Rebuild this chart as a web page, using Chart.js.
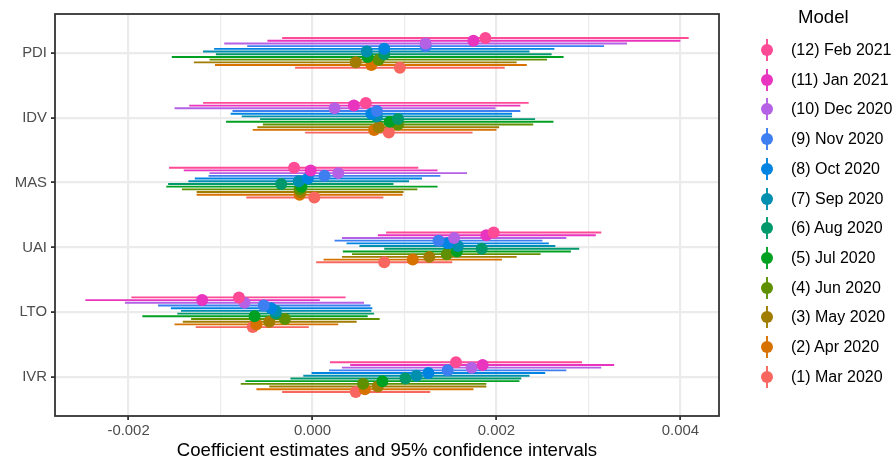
<!DOCTYPE html>
<html><head><meta charset="utf-8">
<script src="https://cdn.jsdelivr.net/npm/chart.js@4.4.1/dist/chart.umd.min.js"></script>
<style>
html,body{margin:0;padding:0;background:#fff;}
#wrap{position:relative;width:896px;height:464px;font-family:"Liberation Sans",Arial,sans-serif;overflow:hidden;}
#c{position:absolute;left:0;top:0;}
.lg-title{position:absolute;font-size:18.6px;color:#000;line-height:1;white-space:nowrap;}
.lg-item{position:absolute;height:22px;white-space:nowrap;}
.lg-item svg{position:absolute;left:0;top:0;}
.lg-item span{position:absolute;left:35px;top:2px;font-size:16px;line-height:18px;color:#000;}
</style></head><body>
<div id="wrap"><canvas id="c" width="896" height="464"></canvas><div id="legend"></div></div>
<script>
// ---- data ----
const variables = ["PDI", "IDV", "MAS", "UAI", "LTO", "IVR"];
const modelLabels = ["(1) Mar 2020", "(2) Apr 2020", "(3) May 2020", "(4) Jun 2020", "(5) Jul 2020", "(6) Aug 2020",
  "(7) Sep 2020", "(8) Oct 2020", "(9) Nov 2020", "(10) Dec 2020", "(11) Jan 2021", "(12) Feb 2021"];
const modelColors = ["#F8665F", "#D77200", "#A07D00", "#5E9000", "#00A023", "#00996C",
  "#008FAE", "#0084E2", "#3D7EF1", "#B561E5", "#E834BE", "#FF4A96"];
const xTickValues = [-0.002, -0.001, 0, 0.001, 0.002, 0.003, 0.004];
const xLimits = [-0.0028, 0.00442];

// values per model (1) ... (12)
const pdiEst  = [0.00095, 0.00064, 0.00047, 0.00072, 0.00060, 0.00078, 0.00059, 0.00078, 0.00123, 0.00123, 0.00175, 0.00188];
const pdiLow  = [-0.00019, -0.00106, -0.00129, -0.00112, -0.00153, -0.00105, -0.00119, -0.00107, -0.00071, -0.00096, -0.00049, -0.00033];
const pdiHigh = [0.00209, 0.00233, 0.00222, 0.00255, 0.00273, 0.00260, 0.00236, 0.00263, 0.00317, 0.00342, 0.00400, 0.00409];

const idvEst  = [0.00083, 0.00067, 0.00072, 0.00093, 0.00084, 0.00093, 0.00070, 0.00064, 0.00070, 0.00024, 0.00045, 0.00058];
const idvLow  = [-0.00008, -0.00065, -0.00060, -0.00054, -0.00094, -0.00057, -0.00077, -0.00089, -0.00087, -0.00150, -0.00134, -0.00119];
const idvHigh = [0.00174, 0.00200, 0.00203, 0.00240, 0.00262, 0.00242, 0.00217, 0.00217, 0.00226, 0.00199, 0.00226, 0.00235];

const masEst  = [0.00002, -0.00014, -0.00013, -0.00014, -0.00012, -0.00034, -0.00015, -0.00005, 0.00013, 0.00028, -0.00002, -0.00020];
const masLow  = [-0.00072, -0.00126, -0.00126, -0.00142, -0.00159, -0.00157, -0.00135, -0.00128, -0.00113, -0.00112, -0.00140, -0.00156];
const masHigh = [0.00077, 0.00098, 0.00099, 0.00114, 0.00136, 0.00088, 0.00105, 0.00119, 0.00139, 0.00168, 0.00136, 0.00115];

const uaiEst  = [0.00078, 0.00109, 0.00127, 0.00146, 0.00157, 0.00184, 0.00158, 0.00147, 0.00137, 0.00154, 0.00189, 0.00197];
const uaiLow  = [0.00004, 0.00012, 0.00032, 0.00043, 0.00033, 0.00078, 0.00051, 0.00037, 0.00024, 0.00032, 0.00071, 0.00080];
const uaiHigh = [0.00152, 0.00206, 0.00222, 0.00248, 0.00281, 0.00290, 0.00264, 0.00257, 0.00250, 0.00276, 0.00308, 0.00314];

const ltoEst  = [-0.00065, -0.00061, -0.00047, -0.00030, -0.00063, -0.00040, -0.00040, -0.00045, -0.00053, -0.00074, -0.00120, -0.00080];
const ltoLow  = [-0.00127, -0.00150, -0.00141, -0.00132, -0.00185, -0.00147, -0.00143, -0.00154, -0.00168, -0.00204, -0.00247, -0.00197];
const ltoHigh = [-0.00004, 0.00028, 0.00048, 0.00073, 0.00060, 0.00067, 0.00064, 0.00065, 0.00063, 0.00056, 0.00008, 0.00036];

const ivrEst  = [0.00047, 0.00057, 0.00071, 0.00055, 0.00076, 0.00101, 0.00113, 0.00126, 0.00147, 0.00173, 0.00185, 0.00156];
const ivrLow  = [-0.00033, -0.00061, -0.00047, -0.00078, -0.00073, -0.00024, -0.00010, -0.00001, 0.00018, 0.00032, 0.00041, 0.00019];
const ivrHigh = [0.00128, 0.00175, 0.00189, 0.00189, 0.00225, 0.00227, 0.00236, 0.00253, 0.00276, 0.00314, 0.00328, 0.00293];

// ---- build ----
const estByVar  = [pdiEst, idvEst, masEst, uaiEst, ltoEst, ivrEst];
const lowByVar  = [pdiLow, idvLow, masLow, uaiLow, ltoLow, ivrLow];
const highByVar = [pdiHigh, idvHigh, masHigh, uaiHigh, ltoHigh, ivrHigh];

const nModels = modelLabels.length;
const dodgeWidth = 0.5;
const dodge = m => ((nModels - 1) / 2 - m) * dodgeWidth / nModels;

Chart.defaults.font.family = "'Liberation Sans', Arial, sans-serif";

const datasets = [];
for (let m = nModels - 1; m >= 0; m--) {
  datasets.push({
    type: 'scatter', label: modelLabels[m], order: 0,
    data: variables.map((v, j) => ({ x: estByVar[j][m], y: j + 1 + dodge(m) })),
    backgroundColor: modelColors[m], borderColor: modelColors[m],
    pointRadius: 6, pointBorderWidth: 0, pointHoverRadius: 6
  });
}
for (let m = nModels - 1; m >= 0; m--) {
  variables.forEach((v, j) => {
    const y = j + 1 + dodge(m);
    datasets.push({
      type: 'line', label: modelLabels[m] + ' ' + v, order: 1,
      data: [{ x: lowByVar[j][m], y: y }, { x: highByVar[j][m], y: y }],
      borderColor: modelColors[m], borderWidth: 1.9, borderCapStyle: 'butt',
      pointRadius: 0, showLine: true, fill: false
    });
  });
}

const isMajor = v => Math.abs(Math.round(v * 1000)) % 2 === 0;

const panelBorder = {
  id: 'panelBorder',
  afterDraw(chart) {
    const { ctx, chartArea: a } = chart;
    ctx.save();
    ctx.strokeStyle = '#333333';
    ctx.lineWidth = 1.8;
    ctx.strokeRect(a.left, a.top, a.right - a.left, a.bottom - a.top);
    ctx.restore();
  }
};

new Chart(document.getElementById('c'), {
  type: 'scatter',
  data: { datasets },
  options: {
    responsive: false, animation: false, devicePixelRatio: 1,
    layout: { padding: { left: 0, right: 177, top: 14, bottom: 0 } },
    plugins: { legend: { display: false }, tooltip: { enabled: false } },
    scales: {
      x: {
        type: 'linear', min: xLimits[0], max: xLimits[1],
        afterBuildTicks: axis => { axis.ticks = xTickValues.map(v => ({ value: v })); },
        afterFit: s => { s.height = 48; },
        ticks: {
          autoSkip: false, maxRotation: 0, color: '#4D4D4D', padding: 3,
          font: { size: 14.9, lineHeight: 1 },
          callback: v => isMajor(v) ? v.toFixed(3) : ''
        },
        grid: {
          color: '#EBEBEB',
          lineWidth: c => (c.tick && isMajor(c.tick.value)) ? 2.2 : 1.1,
          tickColor: c => (c.tick && isMajor(c.tick.value)) ? '#333333' : 'rgba(0,0,0,0)',
          tickLength: 4, tickWidth: 1.8
        },
        border: { display: false },
        title: {
          display: true, text: 'Coefficient estimates and 95% confidence intervals',
          color: '#000', font: { size: 18.6, lineHeight: 1.2 }, padding: { top: 0, bottom: 2 }
        }
      },
      y: {
        type: 'linear', reverse: true, min: 0.4, max: 6.6,
        afterBuildTicks: axis => { axis.ticks = variables.map((v, j) => ({ value: j + 1 })); },
        afterFit: s => { s.width = 55; },
        ticks: {
          autoSkip: false, color: '#4D4D4D', padding: 4,
          font: { size: 14.9 },
          callback: v => variables[Math.round(v) - 1]
        },
        grid: { color: '#EBEBEB', lineWidth: 2.2, tickColor: '#333333', tickLength: 4, tickWidth: 1.8 },
        border: { display: false }
      }
    }
  },
  plugins: [panelBorder]
});

// ---- legend (ggplot style, model 12 first) ----
const lg = document.getElementById('legend');
const title = document.createElement('div');
title.className = 'lg-title';
title.textContent = 'Model';
title.style.left = '798px'; title.style.top = '8px';
lg.appendChild(title);
for (let i = 0; i < nModels; i++) {
  const m = nModels - 1 - i;
  const cy = 50 + i * 29.7;
  const it = document.createElement('div');
  it.className = 'lg-item';
  it.style.left = '756px'; it.style.top = (cy - 11) + 'px';
  const col = modelColors[m];
  it.innerHTML = '<svg width="22" height="22"><line x1="11" y1="0" x2="11" y2="22" stroke="' + col +
    '" stroke-width="1.9"/><circle cx="11" cy="11" r="6" fill="' + col + '"/></svg><span></span>';
  it.querySelector('span').textContent = modelLabels[m];
  lg.appendChild(it);
}
</script>
</body></html>
